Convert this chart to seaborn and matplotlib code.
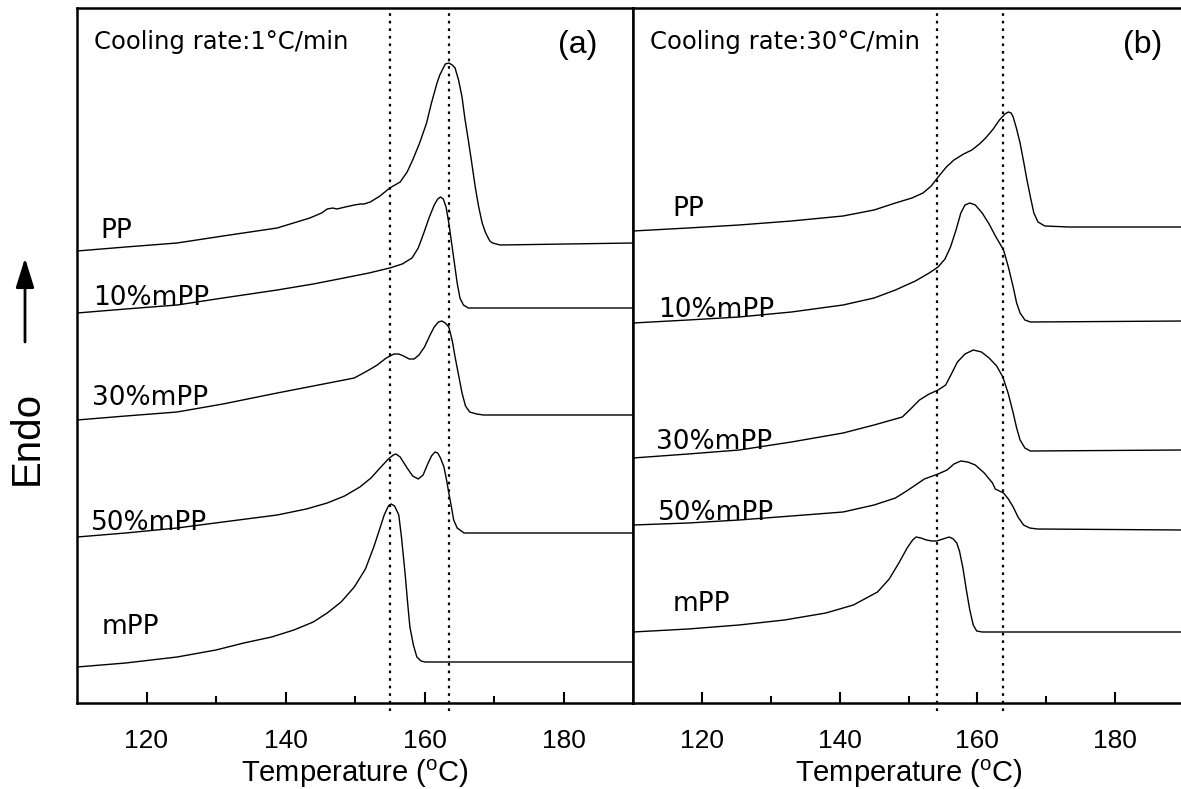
import numpy as np
import pandas as pd
import matplotlib
matplotlib.use("Agg")
import matplotlib.pyplot as plt
import seaborn as sns

# ---------------- data (temperature in degC, heat flow in arbitrary units, offset stacked) -----------
samples = ["PP", "10%mPP", "30%mPP", "50%mPP", "mPP"]

# Panel (a): cooling rate 1 C/min
a_PP_T = [110, 117, 124.4, 131, 138.8, 143.5, 145.2, 146.0, 146.8, 147.4, 148.6, 149.9, 150.8, 151.3, 152.2,
          153.6, 155.0, 156.5, 157.5, 158.3, 159.3, 160.3, 161.0, 161.8, 162.2, 162.7, 163.0, 163.5, 164.0,
          164.4, 164.9, 165.4, 165.8, 166.3, 166.8, 167.3, 167.8, 168.3, 168.8, 169.4, 169.8, 170.9, 190]
a_PP_q = [452, 456, 460, 467, 475, 485, 490, 494, 495, 494, 496, 498, 499, 499, 501,
          507, 515, 521, 531, 543, 560, 580, 600, 620, 628, 635, 639, 640, 638,
          635, 623, 606, 585, 563, 540, 516, 496, 480, 470, 462, 460, 458, 460]

a_10_T = [110, 117, 124.4, 131, 138.8, 144, 148.4, 152, 155.0, 156.8, 158.2, 159.1, 159.9, 160.7, 161.4,
          161.9, 162.3, 162.7, 163.1, 163.5, 163.9, 164.3, 164.7, 165.1, 165.6, 166.3, 167.5, 190]
a_10_q = [390, 394, 398, 405, 413, 419, 425, 430, 435, 439, 445, 455, 470, 486, 498,
          504, 506, 504, 496, 480, 460, 440, 420, 405, 398, 395, 395, 395]

a_30_T = [110, 117, 124.4, 131, 138.8, 144, 149.9, 152, 153.2, 154.5, 155.6, 156.3, 157.0, 157.8, 158.5,
          159.2, 160.0, 160.8, 161.4, 162.0, 162.5, 163.0, 163.5, 164.0, 164.4, 164.9, 165.4, 165.9,
          166.5, 167.5, 168.5, 190]
a_30_q = [283, 287, 291, 299, 310, 317, 325, 333, 338, 345, 349, 349, 347, 344, 344,
          348, 356, 368, 376, 381, 382, 380, 376, 362, 346, 328, 310, 297,
          291, 289, 288, 288]

a_50_T = [110, 117, 124.4, 131, 138.8, 143, 146.0, 148.5, 150.7, 152.3, 153.6, 154.8, 155.5, 155.9, 156.5,
          157.5, 158.3, 159.1, 159.8, 160.4, 161.0, 161.5, 161.9, 162.3, 162.8, 163.2, 163.5, 163.9,
          164.2, 164.7, 165.7, 190]
a_50_q = [166, 170, 175, 181, 188, 194, 200, 207, 216, 225, 235, 244, 248, 249, 246,
          235, 227, 224, 228, 238, 247, 251, 250, 245, 236, 222, 210, 195,
          183, 175, 170, 170]

a_m_T = [110, 117, 124.4, 130, 134.0, 138, 141.2, 144, 146.0, 148, 149.9, 151.5, 152.7, 153.6, 154.2,
         154.8, 155.2, 155.7, 156.3, 156.7, 157.2, 157.6, 157.9, 158.4, 158.9, 159.5, 160.1, 190]
a_m_q = [36, 40, 46, 53, 60, 66, 73, 81, 90, 101, 116, 134, 156, 175, 188,
         197, 199, 197, 188, 165, 130, 98, 76, 58, 46, 42, 41, 41]

# Panel (b): cooling rate 30 C/min
b_PP_T = [110, 118, 125.4, 133, 140.5, 145, 148.1, 150.5, 152.1, 153.3, 154.3, 155.5, 156.6, 158, 159.2,
          160.3, 161.2, 162.3, 163.2, 164.0, 164.5, 164.9, 165.2, 165.7, 166.2, 166.7, 167.2, 167.7,
          168.2, 168.8, 169.8, 173.3, 190]
b_PP_q = [472, 475, 478, 482, 487, 493, 500, 505, 510, 517, 526, 536, 543, 549, 553,
          559, 565, 574, 583, 589, 591, 590, 586, 574, 560, 542, 523, 506,
          490, 481, 477, 476, 476]

b_10_T = [110, 118, 125.4, 133, 140.5, 145, 148.1, 151, 153, 154.3, 155.3, 156.1, 156.9, 157.6, 158.2,
          158.9, 159.7, 160.7, 161.7, 162.7, 163.3, 163.8, 164.5, 165.2, 165.7, 166.2, 166.9, 167.7, 190]
b_10_q = [380, 383, 386, 391, 398, 405, 413, 422, 430, 436, 444, 456, 473, 490, 498,
          500, 498, 490, 479, 466, 459, 453, 436, 416, 400, 390, 383, 381, 382]

b_30_T = [110, 118, 125.4, 133, 140.5, 145, 149.1, 150.3, 151.6, 153, 154.3, 155.4, 156.3, 157.1, 158.2,
          159.4, 160.6, 161.7, 162.8, 163.7, 164.5, 165.2, 165.7, 166.2, 166.9, 167.7, 190]
b_30_q = [245, 249, 253, 261, 270, 278, 286, 294, 303, 309, 313, 318, 330, 341, 349,
          353, 351, 345, 337, 326, 309, 290, 275, 263, 255, 252, 253]

b_50_T = [110, 118, 125.4, 133, 140.5, 145, 148.1, 149.5, 150.6, 152.3, 154.3, 155.6, 156.6, 157.6, 158.6,
          159.7, 161, 162.2, 162.6, 163.8, 164.5, 165.2, 165.9, 166.7, 167.6, 168.7, 190]
b_50_q = [178, 180, 183, 187, 191, 198, 205, 211, 216, 224, 229, 233, 239, 242, 241,
          238, 230, 220, 214, 210, 204, 196, 186, 178, 175, 174, 173]

b_m_T = [110, 118, 125.4, 132, 138.0, 142, 145.5, 147.2, 148.6, 149.8, 150.6, 151.1, 151.8, 152.6, 153.4,
         154.1, 155.0, 155.9, 156.5, 157.0, 157.4, 157.9, 158.4, 158.9, 159.4, 159.9, 160.7, 190]
b_m_q = [71, 74, 78, 83, 90, 98, 111, 124, 140, 155, 163, 166, 165, 163, 162,
         162, 164, 166, 164, 160, 152, 135, 113, 93, 78, 72, 71, 71]

a_curves = [(a_PP_T, a_PP_q), (a_10_T, a_10_q), (a_30_T, a_30_q), (a_50_T, a_50_q), (a_m_T, a_m_q)]
b_curves = [(b_PP_T, b_PP_q), (b_10_T, b_10_q), (b_30_T, b_30_q), (b_50_T, b_50_q), (b_m_T, b_m_q)]

a_dotted = [155.1, 163.5]
b_dotted = [154.2, 163.7]

panel_letters = ["(a)", "(b)"]
rate_titles = ["Cooling rate:1\u00b0C/min", "Cooling rate:30\u00b0C/min"]
x_ticks = [120, 140, 160, 180]
x_minor = [130, 150, 170]

# label anchor positions (T, q) for sample names
a_label_pos = [(113.3, 472), (112.3, 405), (112.2, 305), (112.0, 180), (113.6, 76)]
b_label_pos = [(115.7, 494), (113.6, 393), (113.3, 261), (113.6, 190), (115.7, 99)]

# ---------------- plotting ----------------
sns.set_theme(style="white")
plt.rcParams["font.family"] = ["DejaVu Sans"]
plt.rcParams["mathtext.default"] = "regular"
plt.rcParams["text.color"] = "black"
plt.rcParams["axes.labelcolor"] = "black"
plt.rcParams["xtick.color"] = "black"
plt.rcParams["lines.solid_joinstyle"] = "round"

W, H = 1181, 789
fig = plt.figure(figsize=(W / 100, H / 100), dpi=100)
left_a, mid, right_b = 77 / W, 633 / W, 1184 / W
bottom, top = 1 - 703 / H, 1 - 8 / H
ax_a = fig.add_axes([left_a, bottom, mid - left_a, top - bottom])
ax_b = fig.add_axes([mid, bottom, right_b - mid, top - bottom])


def build_df(curves):
    rows = []
    for name, (T, q) in zip(samples, curves):
        for t, v in zip(T, q):
            rows.append({"T": t, "q": v, "sample": name})
    return pd.DataFrame(rows)


for ax, curves, dotted, letter, title, lpos, lx in [
    (ax_a, a_curves, a_dotted, panel_letters[0], rate_titles[0], a_label_pos, 0.90),
    (ax_b, b_curves, b_dotted, panel_letters[1], rate_titles[1], b_label_pos, 0.925),
]:
    df = build_df(curves)
    sns.lineplot(data=df, x="T", y="q", units="sample", estimator=None, sort=False,
                 color="black", lw=1.0, ax=ax, legend=False)
    ax.set_xlim(110, 190)
    ax.set_ylim(0, 695)
    for d in dotted:
        ax.plot([d, d], [-8, 695], ls=(0, (1.2, 2.2)), color="black", lw=1.6, clip_on=False)
    ax.set_yticks([])
    ax.set_xticks(x_ticks)
    ax.set_xticks(x_minor, minor=True)
    ax.tick_params(axis="x", which="major", direction="in", length=8, width=1.5,
                   labelsize=19, pad=19, bottom=True, colors="black")
    ax.tick_params(axis="x", which="minor", direction="in", length=5, width=1.5, bottom=True)
    for lab in ax.get_xticklabels():
        lab.set_fontfamily(["Liberation Sans", "DejaVu Sans"])
    ax.set_ylabel("")
    ax.set_xlabel("Temperature ($^{o}$C)", fontsize=21, family=["Liberation Sans", "DejaVu Sans"],
                  labelpad=3, color="black")
    for s in ax.spines.values():
        s.set_linewidth(1.8)
        s.set_color("black")
    ax.text(0.03, 0.951, title, transform=ax.transAxes, fontsize=17.5, va="center", ha="left")
    ax.text(lx, 0.947, letter, transform=ax.transAxes, fontsize=23,
            va="center", ha="center", family=["Liberation Sans", "DejaVu Sans"])
    for name, (tx, qy) in zip(samples, lpos):
        ax.text(tx, qy, name, fontsize=19, va="center", ha="left")

ax_b.spines["right"].set_visible(False)

fig.text(27 / W, 1 - 438 / H, "Endo", rotation=90, fontsize=29, va="center", ha="center",
         family=["Liberation Sans", "DejaVu Sans"])
ax_a.annotate("", xy=(25 / W, 1 - 258 / H), xytext=(25 / W, 1 - 342 / H), xycoords="figure fraction",
              textcoords="figure fraction",
              arrowprops=dict(arrowstyle="-|>,head_length=0.9,head_width=0.28", lw=2, color="black",
                              mutation_scale=20, shrinkA=0, shrinkB=0))

fig.savefig("out.png", dpi=100)
